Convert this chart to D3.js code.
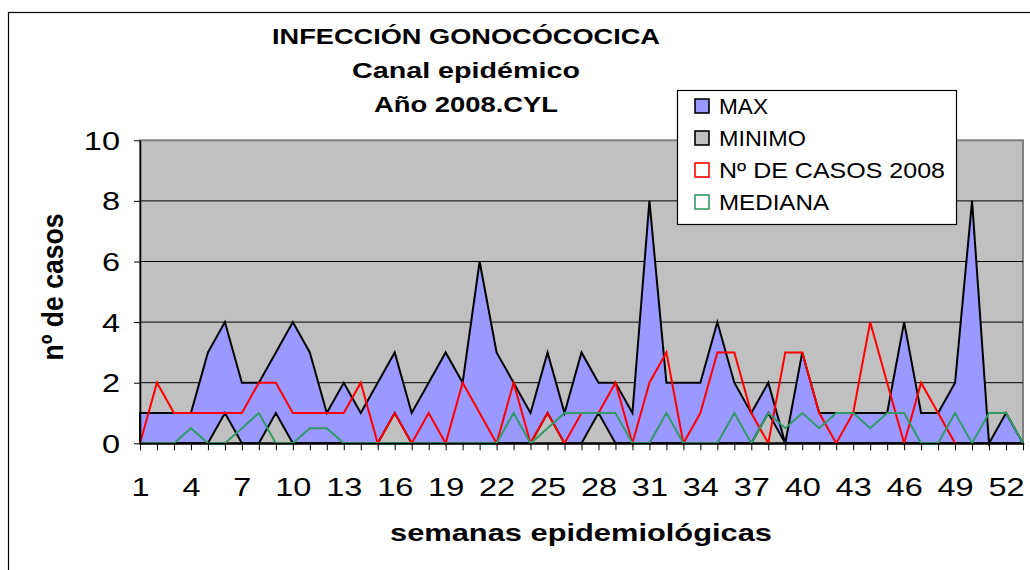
<!DOCTYPE html>
<html>
<head>
<meta charset="utf-8">
<script src="https://cdn.jsdelivr.net/npm/d3@7"></script>
<style>
  body { margin: 0; background: #fff; }
  text { font-family: Arial, "Liberation Sans", sans-serif; fill: #000; }
</style>
</head>
<body>
<div class="chart"></div>
<script>
// semanas epidemiológicas
var weeks = d3.range(1, 54);
var xTickLabels = [1, 4, 7, 10, 13, 16, 19, 22, 25, 28, 31, 34, 37, 40, 43, 46, 49, 52];
var yTicks = [0, 2, 4, 6, 8, 10];

var maxVals = [1, 1, 1, 1, 3, 4, 2, 2, 3, 4,
               3, 1, 2, 1, 2, 3, 1, 2, 3, 2,
               6, 3, 2, 1, 3, 1, 3, 2, 2, 1,
               8, 2, 2, 2, 4, 2, 1, 2, 0, 3,
               1, 1, 1, 1, 1, 4, 1, 1, 2, 8,
               0, 1, 0];
var minVals = [0, 0, 0, 0, 0, 1, 0, 0, 1, 0,
               0, 0, 0, 0, 0, 1, 0, 0, 0, 0,
               0, 0, 0, 0, 1, 0, 0, 1, 0, 0,
               0, 0, 0, 0, 0, 0, 0, 1, 0, 0,
               0, 0, 0, 0, 0, 0, 0, 0, 0, 0,
               0, 0, 0];
var casos2008 = [0, 2, 1, 1, 1, 1, 1, 2, 2, 1,
                 1, 1, 1, 2, 0, 1, 0, 1, 0, 2,
                 1, 0, 2, 0, 1, 0, 1, 1, 2, 0,
                 2, 3, 0, 1, 3, 3, 1, 0, 3, 3,
                 1, 0, 1, 4, 2, 0, 2, 1, 0];
var mediana = [0, 0, 0, 0.5, 0, 0, 0.5, 1, 0, 0,
               0.5, 0.5, 0, 0, 0, 0, 0, 0, 0, 0,
               0, 0, 1, 0, 0.5, 1, 1, 1, 1, 0,
               0, 1, 0, 0, 0, 1, 0, 1, 0.5, 1,
               0.5, 1, 1, 0.5, 1, 1, 0, 0, 1, 0,
               1, 1, 0];

var titleLines = ["INFECCIÓN GONOCÓCOCICA", "Canal epidémico", "Año 2008.CYL"];
var legendLabels = ["MAX", "MINIMO", "Nº DE CASOS 2008", "MEDIANA"];

var svgWidth = 1030, svgHeight = 570;
var plot = { left: 140, right: 1023, top: 140.3, bottom: 443.3 };

var svg = d3.select(".chart").append("svg")
  .attr("width", svgWidth)
  .attr("height", svgHeight);

// outer frame of the chart area
svg.append("rect")
  .attr("x", 8.5).attr("y", 12.5)
  .attr("width", 1100).attr("height", 700)
  .attr("fill", "#fff").attr("stroke", "#000").attr("stroke-width", 1.2);

var x = d3.scalePoint().domain(weeks).range([plot.left, plot.right]);
var y = d3.scaleLinear().domain([0, 10]).range([plot.bottom, plot.top]);

// plot background
svg.append("rect")
  .attr("x", plot.left).attr("y", plot.top)
  .attr("width", plot.right - plot.left).attr("height", plot.bottom - plot.top)
  .attr("fill", "#C0C0C0").attr("stroke", "#808080").attr("stroke-width", 2);

// gridlines
svg.append("g")
  .selectAll("line")
  .data(yTicks.filter(function(d) { return d > 0 && d < 10; }))
  .enter().append("line")
    .attr("x1", plot.left).attr("x2", plot.right)
    .attr("y1", function(d) { return y(d); })
    .attr("y2", function(d) { return y(d); })
    .attr("stroke", "#000").attr("stroke-width", 1);

function toPoints(vals) {
  return vals.map(function(v, i) { return { w: weeks[i], v: v }; });
}

var area = d3.area()
  .x(function(d) { return x(d.w); })
  .y0(y(0))
  .y1(function(d) { return y(d.v); });

var line = d3.line()
  .x(function(d) { return x(d.w); })
  .y(function(d) { return y(d.v); });

svg.append("path")
  .datum(toPoints(maxVals))
  .attr("d", area)
  .attr("fill", "#9999FF").attr("stroke", "#000").attr("stroke-width", 2)
  .attr("stroke-linejoin", "miter");

svg.append("path")
  .datum(toPoints(minVals))
  .attr("d", area)
  .attr("fill", "#C0C0C0").attr("stroke", "#000").attr("stroke-width", 2);

svg.append("path")
  .datum(toPoints(casos2008))
  .attr("d", line)
  .attr("fill", "none").attr("stroke", "#FF0000").attr("stroke-width", 2);

svg.append("path")
  .datum(toPoints(mediana))
  .attr("d", line)
  .attr("fill", "none").attr("stroke", "#339966").attr("stroke-width", 2);

// axes
var stretch = 1.3;

var leftAxis = d3.axisLeft(y).tickValues(yTicks).tickSize(6).tickSizeOuter(0);
var gy = svg.append("g")
  .attr("transform", "translate(" + plot.left + ",0)")
  .call(leftAxis);
gy.select(".domain").attr("stroke", "#000").attr("stroke-width", 1.5);
gy.selectAll(".tick line").attr("stroke", "#000");
gy.selectAll(".tick text")
  .attr("font-size", 25)
  .attr("font-family", "Arial, 'Liberation Sans', sans-serif")
  .attr("fill", "#000")
  .attr("x", -20 / stretch)
  .attr("dy", "0.36em")
  .attr("transform", "scale(" + stretch + ",1)");

var bottomAxis = d3.axisBottom(x).tickSize(7).tickSizeOuter(0)
  .tickFormat(function(d) { return xTickLabels.indexOf(d) >= 0 ? d : ""; });
var gx = svg.append("g")
  .attr("transform", "translate(0," + plot.bottom + ")")
  .call(bottomAxis);
gx.select(".domain").attr("stroke", "#000").attr("stroke-width", 1.5);
gx.selectAll(".tick line").attr("stroke", "#000");
gx.selectAll(".tick text")
  .attr("font-size", 25)
  .attr("font-family", "Arial, 'Liberation Sans', sans-serif")
  .attr("fill", "#000")
  .attr("y", 53)
  .attr("dy", 0)
  .attr("transform", "scale(" + stretch + ",1)");

// titles
var titleWidths = [388, 228, 184];
svg.append("g").selectAll("text")
  .data(titleLines)
  .enter().append("text")
    .attr("x", 466)
    .attr("y", function(d, i) { return 44 + i * 34; })
    .attr("text-anchor", "middle")
    .attr("font-size", 22)
    .attr("font-weight", "bold")
    .attr("textLength", function(d, i) { return titleWidths[i]; })
    .attr("lengthAdjust", "spacingAndGlyphs")
    .text(function(d) { return d; });

svg.append("text")
  .attr("x", 581).attr("y", 541)
  .attr("text-anchor", "middle")
  .attr("font-size", 24).attr("font-weight", "bold")
  .attr("textLength", 382).attr("lengthAdjust", "spacingAndGlyphs")
  .text("semanas epidemiológicas");

svg.append("text")
  .attr("transform", "translate(63,287) rotate(-90) scale(1,1.25)")
  .attr("text-anchor", "middle")
  .attr("font-size", 24).attr("font-weight", "bold")
  .attr("textLength", 147).attr("lengthAdjust", "spacingAndGlyphs")
  .text("nº de casos");

// legend
var legendFill = ["#9999FF", "#C0C0C0", "#FFFFFF", "#FFFFFF"];
var legendStroke = ["#000", "#000", "#FF0000", "#339966"];
var legendWidths = [49, 87, 226, 110];
var legend = svg.append("g");
legend.append("rect")
  .attr("x", 677.5).attr("y", 90.5)
  .attr("width", 279).attr("height", 134)
  .attr("fill", "#fff").attr("stroke", "#000").attr("stroke-width", 1.2);

var items = legend.selectAll(".item")
  .data(legendLabels)
  .enter().append("g")
    .attr("class", "item")
    .attr("transform", function(d, i) { return "translate(0," + (106 + i * 32) + ")"; });

items.append("rect")
  .attr("x", 695).attr("y", -7)
  .attr("width", 14).attr("height", 14)
  .attr("fill", function(d, i) { return legendFill[i]; })
  .attr("stroke", function(d, i) { return legendStroke[i]; })
  .attr("stroke-width", 1.6);

items.append("text")
  .attr("x", 719).attr("y", 8)
  .attr("font-size", 22)
  .attr("textLength", function(d, i) { return legendWidths[i]; })
  .attr("lengthAdjust", "spacingAndGlyphs")
  .text(function(d) { return d; });
</script>
</body>
</html>
